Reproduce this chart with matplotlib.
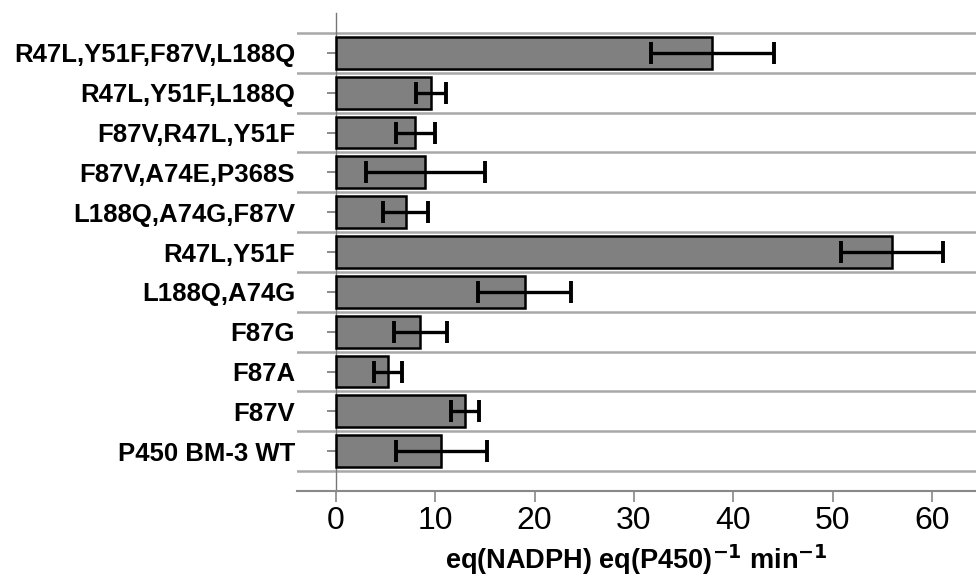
import numpy as np
import matplotlib
matplotlib.use("Agg")
import matplotlib.pyplot as plt

# Dados do gráfico (de baixo para cima)
mutantes = [
    "P450 BM-3 WT",
    "F87V",
    "F87A",
    "F87G",
    "L188Q,A74G",
    "R47L,Y51F",
    "L188Q,A74G,F87V",
    "F87V,A74E,P368S",
    "F87V,R47L,Y51F",
    "R47L,Y51F,L188Q",
    "R47L,Y51F,F87V,L188Q",
]
atividade = [10.6, 13.0, 5.2, 8.5, 19.0, 56.0, 7.0, 9.0, 8.0, 9.6, 37.9]
erro = [4.6, 1.4, 1.4, 2.7, 4.7, 5.1, 2.3, 6.0, 2.0, 1.5, 6.2]
ticks_x = [0, 10, 20, 30, 40, 50, 60]


def desenhar_grafico(caminho_saida="out.png"):
    """
    Desenha o gráfico de barras horizontais com barras de erro.
    """
    plt.rcParams['font.family'] = ['Liberation Sans', 'DejaVu Sans']

    fig = plt.figure(figsize=(9.76, 5.77), dpi=100)
    ax = fig.add_axes([297 / 976, (577 - 491) / 577, 1 - 297 / 976, 478 / 577])

    posicoes = np.arange(len(mutantes))

    # Barras com erro
    ax.barh(posicoes, atividade, height=0.8, color='#808080',
            edgecolor='black', linewidth=1.8, zorder=3)
    ax.errorbar(atividade, posicoes, xerr=erro, fmt='none', ecolor='black',
                elinewidth=2.4, capsize=8, capthick=2.8, zorder=4)

    # Limites
    ax.set_xlim(-3.93, 64.45)
    ax.set_ylim(-1, len(mutantes))

    # Eixos
    for lado in ['top', 'right']:
        ax.spines[lado].set_visible(False)
    ax.spines['left'].set_position(('data', 0))
    ax.spines['left'].set_color('#777777')
    ax.spines['left'].set_linewidth(1.0)
    ax.spines['bottom'].set_color('#888888')
    ax.spines['bottom'].set_linewidth(1.5)

    # Ticks do eixo y
    ax.set_yticks(posicoes)
    ax.set_yticklabels(mutantes, fontsize=18.5, fontweight='bold')
    ax.tick_params(axis='y', length=6.5, width=1.2, color='#777777', pad=23)

    # Linhas de grade entre categorias
    ax.set_yticks(np.arange(-0.5, len(mutantes)), minor=True)
    ax.tick_params(axis='y', which='minor', length=0)
    ax.grid(axis='y', which='minor', color='#a8a8a8', linewidth=1.8, zorder=0)

    # Ticks do eixo x
    ax.set_xticks(ticks_x)
    ax.set_xticklabels([str(t) for t in ticks_x], fontsize=23)
    ax.tick_params(axis='x', length=8, width=1.2, color='#888888', pad=3)

    ax.set_xlabel(r'eq(NADPH) eq(P450)$^{\mathbf{-1}}$ min$^{\mathbf{-1}}$',
                  fontsize=19.5, fontweight='bold', labelpad=4.5)

    fig.savefig(caminho_saida, dpi=100)


if __name__ == "__main__":
    desenhar_grafico()
